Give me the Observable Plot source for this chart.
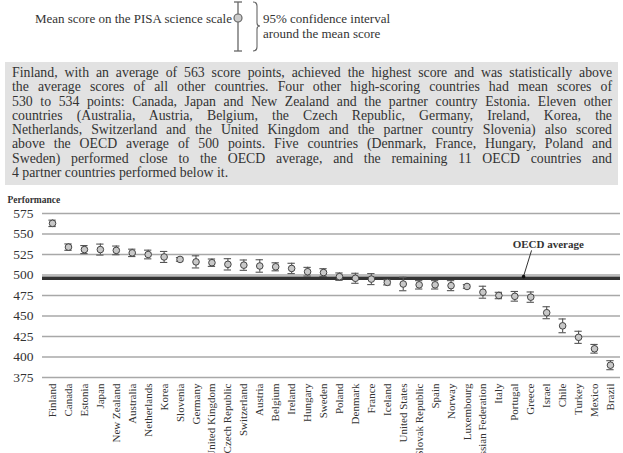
<!DOCTYPE html>
<html><head><meta charset="utf-8">
<script src="https://cdn.jsdelivr.net/npm/d3@7"></script>
<script src="https://cdn.jsdelivr.net/npm/@observablehq/plot@0.6"></script>
<style>
body{margin:0;width:623px;height:453px;overflow:hidden;background:#fff;font-family:"Liberation Serif","DejaVu Serif",serif;color:#333;}
#legend{position:relative;height:62px;}
#legend .t{position:absolute;font-size:13px;line-height:15px;color:#333;white-space:nowrap;}
#legend svg{position:absolute;left:0;top:0;}
#box{margin-left:5px;width:600px;padding:4px 6px 5px 7px;background:#e2e2e2;font-size:13.8px;line-height:14.3px;color:#333;}
#box .j{text-align:justify;text-align-last:justify;white-space:nowrap;}
#box .l{text-align:left;}
#chart{margin-top:2px;}
</style></head><body>
<div id="legend">
  <div class="t" style="right:391px;top:11px;">Mean score on the PISA science scale</div>
  <svg width="623" height="60">
    <line x1="238" y1="2" x2="238" y2="51" stroke="#666" stroke-width="1.3"/>
    <line x1="234" y1="2" x2="242" y2="2" stroke="#666" stroke-width="1.3"/>
    <line x1="234" y1="51" x2="242" y2="51" stroke="#666" stroke-width="1.3"/>
    <circle cx="238" cy="18" r="4" fill="#ccc" stroke="#666" stroke-width="1.2"/>
    <path d="M253,2 q4,0 4,4 v17 q0,3 3,3 q-3,0 -3,3 v18 q0,4 -4,4" fill="none" stroke="#666" stroke-width="1.1"/>
  </svg>
  <div class="t" style="left:263px;top:11px;">95% confidence interval<br>around the mean score</div>
</div>
<div id="box">
  <div class="j">Finland, with an average of 563 score points, achieved the highest score and was statistically above</div>
  <div class="j">the average scores of all other countries. Four other high-scoring countries had mean scores of</div>
  <div class="j">530 to 534 points: Canada, Japan and New Zealand and the partner country Estonia. Eleven other</div>
  <div class="j">countries (Australia, Austria, Belgium, the Czech Republic, Germany, Ireland, Korea, the</div>
  <div class="j">Netherlands, Switzerland and the United Kingdom and the partner country Slovenia) also scored</div>
  <div class="j">above the OECD average of 500 points. Five countries (Denmark, France, Hungary, Poland and</div>
  <div class="j">Sweden) performed close to the OECD average, and the remaining 11 OECD countries and</div>
  <div class="l">4 partner countries performed below it.</div>
</div>
<div id="chart"></div>
<script>
const countries = ["Finland","Canada","Estonia","Japan","New Zealand","Australia","Netherlands","Korea","Slovenia","Germany","United Kingdom","Czech Republic","Switzerland","Austria","Belgium","Ireland","Hungary","Sweden","Poland","Denmark","France","Iceland","United States","Slovak Republic","Spain","Norway","Luxembourg","Russian Federation","Italy","Portugal","Greece","Israel","Chile","Turkey","Mexico","Brazil"];
const scores = [563,534,531,531,530,527,525,522,519,516,515,513,512,511,510,508,504,503,498,496,495,491,489,488,488,487,486,479,475,474,473,454,438,424,410,390];
const ciHalf = [3.9,3.9,4.9,6.7,5.3,4.5,5.3,6.7,2.2,7.4,4.5,6.9,6.3,7.6,4.9,6.3,5.3,4.7,4.5,6.1,6.7,3.1,8.2,5.1,5.1,6.1,2.2,7.3,3.9,5.9,6.3,7.3,8.4,7.4,5.3,5.5];
const yTicks = [375,400,425,450,475,500,525,550,575];
const oecdLine = 496;
const oecdLabel = "OECD average";

const data = countries.map((c, i) => ({i, country: c, score: scores[i], lo: scores[i] - ciHalf[i], hi: scores[i] + ciHalf[i]}));

const chart = Plot.plot({
  width: 623,
  height: 265,
  marginTop: 26,
  marginBottom: 75,
  marginLeft: 42,
  marginRight: 3,
  style: {fontFamily: "Liberation Serif, serif", color: "#333", background: "transparent", overflow: "visible"},
  x: {type: "linear", domain: [-0.63, 35.63]},
  y: {domain: [375, 575]},
  marks: [
    Plot.ruleY(yTicks, {stroke: "#a8a8a8", strokeWidth: 1.5}),
    Plot.ruleY([oecdLine], {stroke: "#333", strokeWidth: 3.5}),
    Plot.axisY(yTicks, {tickSize: 0, tickPadding: 9, fontSize: 13.5, label: null, tickFormat: d => d}),
    Plot.axisX(d3.range(countries.length), {tickSize: 0, tickPadding: 6, tickRotate: -90, fontSize: 11, label: null, tickFormat: i => countries[i]}),
    Plot.text(["Performance"], {frameAnchor: "top-left", dx: -35, dy: -17, textAnchor: "start", fontSize: 9.5, fontWeight: "bold", fill: "#333"}),
    Plot.ruleX(data, {x: "i", y1: "lo", y2: "hi", stroke: "#555", strokeWidth: 1.1}),
    Plot.ruleY(data, {y: "lo", x1: d => d.i - 0.23, x2: d => d.i + 0.23, stroke: "#555", strokeWidth: 1.1}),
    Plot.ruleY(data, {y: "hi", x1: d => d.i - 0.23, x2: d => d.i + 0.23, stroke: "#555", strokeWidth: 1.1}),
    Plot.dot(data, {x: "i", y: "score", r: 3.3, fill: "#c8c8c8", stroke: "#444", strokeWidth: 1}),
    Plot.link([{x1: 30.05, y1: 530, x2: 29.55, y2: 498.5}], {x1: "x1", y1: "y1", x2: "x2", y2: "y2", stroke: "#333", strokeWidth: 1}),
    Plot.dot([{x: 29.55, y: 498}], {x: "x", y: "y", r: 1.8, fill: "#111"}),
    Plot.text([oecdLabel], {x: 31.1, y: 537.5, fontSize: 11, fontWeight: "bold", fill: "#333"})
  ]
});
document.getElementById("chart").appendChild(chart);
</script>
</body></html>
